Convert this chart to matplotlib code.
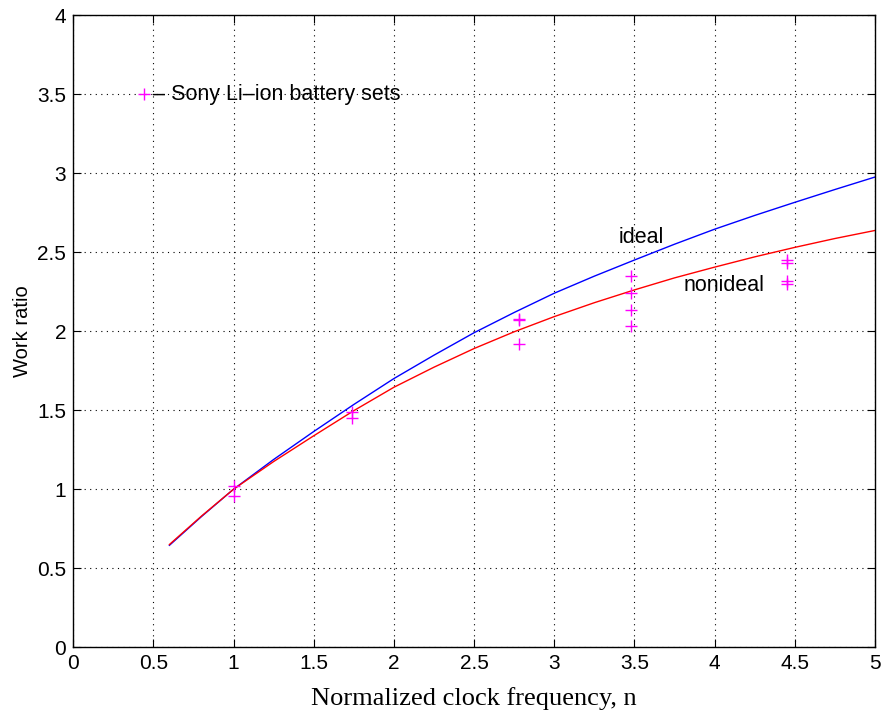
import matplotlib
matplotlib.use("Agg")
import matplotlib.pyplot as plt
import numpy as np

plt.rcParams['font.family'] = ['Liberation Sans', 'DejaVu Sans']

# model curves, work ratio vs normalized clock frequency
n_curve = [0.6, 0.8, 1.0, 1.25, 1.5, 1.75, 2.0, 2.25, 2.5, 2.75, 3.0, 3.25,
           3.5, 3.75, 4.0, 4.25, 4.5, 4.75, 5.0]
ideal = [0.645, 0.827, 1.0, 1.188, 1.365, 1.536, 1.70, 1.848, 1.99, 2.118,
         2.24, 2.348, 2.45, 2.55, 2.645, 2.732, 2.815, 2.896, 2.975]
nonideal = [0.65, 0.83, 1.0, 1.175, 1.338, 1.497, 1.645, 1.772, 1.89, 1.996,
            2.092, 2.18, 2.261, 2.337, 2.405, 2.47, 2.53, 2.586, 2.637]

# measured battery sets
n_meas = [1.0, 1.0, 1.74, 1.74, 2.78, 2.78, 2.78, 3.48, 3.48, 3.48, 3.48,
          4.45, 4.45, 4.45, 4.45]
w_meas = [1.02, 0.96, 1.49, 1.45, 2.08, 2.07, 1.92, 2.35, 2.24, 2.135, 2.03,
          2.45, 2.43, 2.32, 2.30]

fig = plt.figure(figsize=(8.82, 7.16), dpi=100)
ax = fig.add_axes([0.083, 0.096, 0.909, 0.883])

ax.plot(n_curve, ideal, color='blue', lw=1.0)
ax.plot(n_curve, nonideal, color='red', lw=1.0)
ax.plot(n_meas, w_meas, '+', color='magenta', markersize=9, mew=1.0)

# legend-like annotation
ax.plot([0.44], [3.5], '+', color='magenta', markersize=9, mew=1.0)
ax.text(0.5, 3.5, '\u2013 Sony Li\u2013ion battery sets', fontsize=15.5,
        va='center', ha='left')

ax.text(3.54, 2.59, 'ideal', fontsize=15.5, ha='center', va='center')
ax.text(4.06, 2.29, 'nonideal', fontsize=15.5, ha='center', va='center')

ax.set_xlim(0, 5)
ax.set_ylim(0, 4)
ax.set_xticks(np.arange(0, 5.01, 0.5))
ax.set_yticks(np.arange(0, 4.01, 0.5))
ax.set_xticklabels(['0', '0.5', '1', '1.5', '2', '2.5', '3', '3.5', '4', '4.5', '5'])
ax.set_yticklabels(['0', '0.5', '1', '1.5', '2', '2.5', '3', '3.5', '4'])
ax.tick_params(direction='in', top=True, right=True, labelsize=15, length=6, pad=5)
ax.grid(True, linestyle=(0, (1, 4)), color='black', lw=0.8)
for s in ax.spines.values():
    s.set_linewidth(1.0)

ax.set_xlabel('Normalized clock frequency, n', fontsize=19,
              family='Liberation Serif', labelpad=10)
ax.set_ylabel('Work ratio', fontsize=14.5, labelpad=4)

fig.savefig('out.png', dpi=100)
